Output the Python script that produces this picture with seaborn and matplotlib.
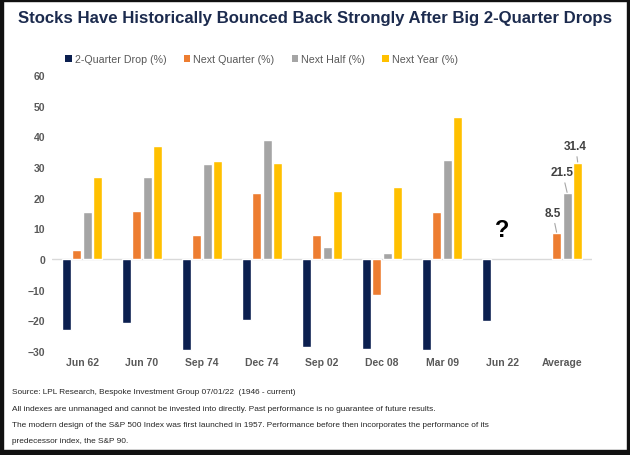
import pandas as pd
import seaborn as sns
import matplotlib.pyplot as plt
from matplotlib.patches import Rectangle, Patch

# data
periods = ["Jun 62", "Jun 70", "Sep 74", "Dec 74", "Sep 02", "Dec 08", "Mar 09", "Jun 22", "Average"]
drop_2q = [-23.0, -20.9, -29.8, -20.0, -28.8, -29.2, -29.8, -20.2, None]
next_quarter = [2.9, 15.8, 7.9, 21.5, 7.9, -11.6, 15.2, None, 8.5]
next_half = [15.2, 26.6, 31.0, 38.7, 3.8, 1.8, 32.4, None, 21.5]
next_year = [26.6, 36.7, 31.8, 31.3, 22.1, 23.5, 46.3, None, 31.4]

series = ["2-Quarter Drop (%)", "Next Quarter (%)", "Next Half (%)", "Next Year (%)"]
colors = ["#0B1F4F", "#ED7D31", "#A5A5A5", "#FFC000"]
yticks = [-30, -20, -10, 0, 10, 20, 30, 40, 50, 60]

footnotes = [
    "Source: LPL Research, Bespoke Investment Group 07/01/22  (1946 - current)",
    "All indexes are unmanaged and cannot be invested into directly. Past performance is no guarantee of future results.",
    "The modern design of the S&P 500 Index was first launched in 1957. Performance before then incorporates the performance of its",
    "predecessor index, the S&P 90.",
]

df = pd.DataFrame({"Period": periods, series[0]: drop_2q, series[1]: next_quarter,
                   series[2]: next_half, series[3]: next_year})
long = df.melt(id_vars="Period", var_name="Series", value_name="Value").dropna()

sns.set_theme(style="white")
plt.rcParams['font.family'] = ['Liberation Sans', 'DejaVu Sans']

fig = plt.figure(figsize=(6.3, 4.56), dpi=100)
ax = fig.add_axes([52 / 630, 104 / 456, 540 / 630, 276 / 456])

sns.barplot(data=long, x="Period", y="Value", hue="Series", order=periods,
            hue_order=series, palette=colors, width=0.7, gap=0.15,
            errorbar=None, saturation=1, legend=False, ax=ax)

ax.set_xlim(-0.5, len(periods) - 0.5)
ax.set_ylim(-30, 60)
ax.set_yticks(yticks)
ax.axhline(0, color="#D9D9D9", linewidth=1, zorder=0)
for s in ax.spines.values():
    s.set_visible(False)
ax.set_xlabel("")
ax.set_ylabel("")
ax.tick_params(axis="both", length=0, labelsize=7.5, labelcolor="#595959")
ax.tick_params(axis="y", pad=5)
ax.tick_params(axis="x", pad=0)
for lbl in ax.get_xticklabels() + ax.get_yticklabels():
    lbl.set_fontweight("bold")
for lbl in ax.get_xticklabels():
    lbl.set_y(-0.02)

# legend with small square markers
handles = [Patch(facecolor=c, edgecolor="none") for c in colors]
fig.legend(handles, series, loc="center left", bbox_to_anchor=(60 / 630, 1 - 60 / 456),
           ncol=4, frameon=False, fontsize=7.7, handlelength=0.6, handleheight=0.6,
           handletextpad=0.3, columnspacing=1.6, labelcolor="#595959", borderpad=0)

# value labels with leader lines on the Average bars
offsets = {1: (-3, 14.5), 2: (-3.5, 15), 3: (-1.5, 12)}
for k, (dx, dy) in offsets.items():
    bar = ax.containers[k][-1]
    xc = bar.get_x() + bar.get_width() / 2
    h = bar.get_height()
    ax.annotate(f"{h:.1f}", xy=(xc, h), xytext=(dx, dy), textcoords="offset points",
                ha="center", va="center", fontsize=8.5, fontweight="bold", color="#404040",
                arrowprops=dict(arrowstyle="-", color="#A6A6A6", lw=0.8, shrinkA=1, shrinkB=0.5))

ax.text(periods.index("Jun 22"), 9.5, "?", ha="center", va="center",
        fontsize=17, fontweight="bold", color="black")

fig.text(0.5, 1 - 18 / 456, "Stocks Have Historically Bounced Back Strongly After Big 2-Quarter Drops",
         ha="center", va="center", fontsize=12.1, fontweight="bold", color="#1C2B4E")

for i, line in enumerate(footnotes):
    fig.text(12 / 630, 1 - (393 + i * 16.3) / 456, line, ha="left", va="center",
             fontsize=5.95, color="#262626")

# dark frame around the picture
frame = "#111111"
for x0, y0, w, h in [(0, 0, 3 / 630, 1), (627 / 630, 0, 3 / 630, 1),
                     (0, 0, 1, 5 / 456), (0, 1 - 2 / 456, 1, 2 / 456)]:
    fig.patches.append(Rectangle((x0, y0), w, h, transform=fig.transFigure,
                                 color=frame, zorder=10))

fig.savefig("out.png", dpi=100)
